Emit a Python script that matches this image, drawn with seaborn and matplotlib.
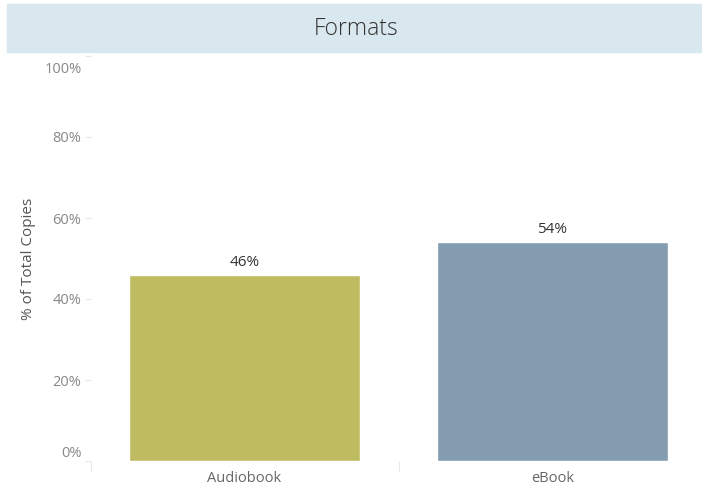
import pandas as pd
import seaborn as sns
from matplotlib import pyplot as plt
from matplotlib.patches import Rectangle
from matplotlib.ticker import PercentFormatter, FixedLocator
from matplotlib.transforms import ScaledTranslation

formats = ["Audiobook", "eBook"]
share = [0.46, 0.54]
bar_colors = ["#bfbb60", "#849cb0"]

df = pd.DataFrame({"format": formats, "share": share})

sns.set_style("white")
plt.rcParams["font.family"] = ["Open Sans", "DejaVu Sans"]

fig = plt.figure(figsize=(7.02, 4.91), dpi=100)
ax = fig.add_axes([90.5 / 702, 30 / 491, 1 - 90.5 / 702, (461 - 56) / 491])

# title band
fig.patches.append(Rectangle((7 / 702, 1 - 52 / 491), 695 / 702, 48 / 491,
                             transform=fig.transFigure, color="#d9e7ee", zorder=0))
fig.text(356 / 702, 1 - 29 / 491, "Formats", ha="center", va="center",
         fontsize=16.5, color="#333333", fontweight="light")

sns.barplot(data=df, x="format", y="share", hue="format", palette=bar_colors,
            width=0.75, saturation=1, legend=False, ax=ax)

for i, v in enumerate(share):
    ax.text(i, v + 0.012, "{:.0%}".format(v), ha="center", va="bottom",
            fontsize=11, color="#333333")

ax.set_xlim(-0.5, 1.5 - 4.5 / 308)
ax.set_ylim(0, 1.0)
ax.yaxis.set_major_formatter(PercentFormatter(1.0, decimals=0))
ax.set_yticks([0, 0.2, 0.4, 0.6, 0.8, 1.0])
ax.tick_params(axis="y", length=4.5, width=0.8, color="#e8e8e8", labelcolor="#888888",
               labelsize=10.5, pad=2, left=True)
ylabels = ax.get_yticklabels()
ylabels[0].set_verticalalignment("bottom")
ylabels[-1].set_verticalalignment("top")
# push the 100% label a bit lower like the original
top_lbl = ax.yaxis.get_major_ticks()[-1].label1
top_lbl.set_transform(top_lbl.get_transform() + ScaledTranslation(0, -4 / 72, fig.dpi_scale_trans))

ax.tick_params(axis="x", length=0, labelcolor="#666666", labelsize=10.5, pad=7)
ax.xaxis.set_minor_locator(FixedLocator([-0.5, 0.5]))
ax.tick_params(axis="x", which="minor", length=7, width=0.8, color="#e8e8e8", bottom=True)

ax.set_xlabel("")
ax.set_ylabel("% of Total Copies", fontsize=11, color="#555555", labelpad=6)
sns.despine(ax=ax, left=True, bottom=True)

plt.savefig("out.png", dpi=100)
